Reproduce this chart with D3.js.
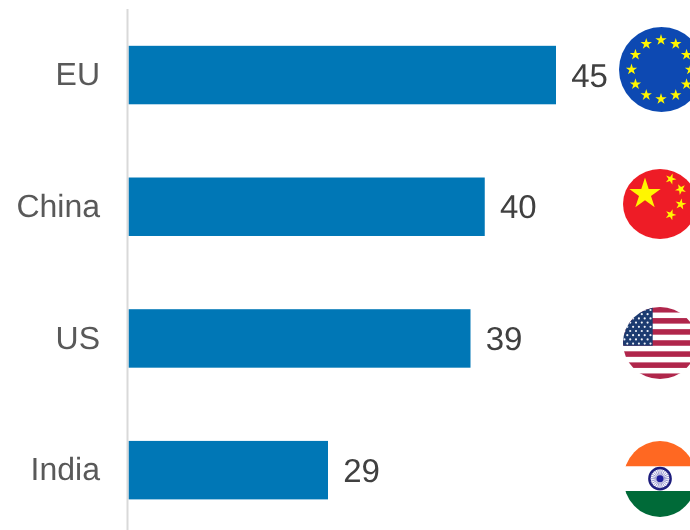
<!DOCTYPE html>
<html>
<head>
<meta charset="utf-8">
<script src="https://cdn.jsdelivr.net/npm/d3@7/dist/d3.min.js"></script>
<style>
  html, body { margin: 0; padding: 0; background: #fff; }
  svg { display: block; will-change: transform; }
  text { font-family: "Liberation Sans", Arial, sans-serif; text-rendering: geometricPrecision; }
</style>
</head>
<body>
<div id="chart"></div>
<script>
const categories = ["EU", "China", "US", "India"];
const values = [45, 40, 39, 29];
const axisStart = 15;

const width = 690, height = 530;
const svg = d3.select("#chart").append("svg").attr("width", width).attr("height", height);

const x = d3.scaleLinear().domain([axisStart, 45]).range([128.5, 556]);
const y = d3.scaleBand().domain(categories).range([9.2, 536]).paddingInner(0.556).paddingOuter(0.278);

// Bars
svg.selectAll("rect.bar").data(categories).join("rect")
  .attr("class", "bar")
  .attr("x", x(axisStart))
  .attr("y", d => y(d))
  .attr("width", (d, i) => x(values[i]) - x(axisStart))
  .attr("height", y.bandwidth())
  .attr("fill", "#0077b6");

// Vertical baseline
svg.append("line")
  .attr("x1", 127.5).attr("x2", 127.5).attr("y1", 9).attr("y2", height)
  .attr("stroke", "#d9d9d9").attr("stroke-width", 2);

// Category labels
const axis = svg.append("g")
  .attr("transform", "translate(100,0)")
  .call(d3.axisLeft(y).tickSize(0).tickPadding(0));
axis.select(".domain").remove();
axis.selectAll("text")
  .attr("font-size", 32)
  .style("font-family", '"Liberation Sans", Arial, sans-serif')
  .attr("fill", "#595959");

// Value labels
svg.selectAll("text.value").data(categories).join("text")
  .attr("class", "value")
  .attr("x", (d, i) => x(values[i]) + 15.2)
  .attr("y", d => y(d) + y.bandwidth() / 2)
  .attr("dy", "0.35em")
  .attr("font-size", 33)
  .attr("fill", "#404040")
  .text((d, i) => values[i]);

// Flags
const defs = svg.append("defs");
[["soft", 0.5], ["softer", 0.7]].forEach(([id, s]) => {
  defs.append("filter").attr("id", id)
    .append("feGaussianBlur").attr("stdDeviation", s);
});

const starPath = r => d3.symbol().type(d3.symbolStar).size(Math.PI * r * r * 0.38)();

function flag(id, cx, cy, rx, ry, blur = "soft") {
  defs.append("clipPath").attr("id", id)
    .append("ellipse").attr("cx", cx).attr("cy", cy).attr("rx", rx).attr("ry", ry);
  return svg.append("g").attr("filter", `url(#${blur})`)
    .append("g").attr("clip-path", `url(#${id})`);
}
function star(g, px, py, r, fill, rot = 0) {
  g.append("path").attr("d", starPath(r))
    .attr("transform", `translate(${px},${py}) rotate(${rot})`)
    .attr("fill", fill);
}

// EU: ring of twelve stars
{
  const cx = 661.5, cy = 69.5;
  const g = flag("clip-eu", cx, cy, 42.5, 42.5);
  g.append("rect").attr("x", 615).attr("y", 24).attr("width", 80).attr("height", 92).attr("fill", "#0a4ab2");
  d3.range(12).forEach(k => {
    const a = k * Math.PI / 6;
    star(g, 661 + 29.5 * Math.sin(a), cy - 29.5 * Math.cos(a), 5.8, "#fff600");
  });
}

// China: large star and four small stars
{
  const g = flag("clip-cn", 660, 204, 37, 35);
  g.append("rect").attr("x", 620).attr("y", 165).attr("width", 75).attr("height", 78).attr("fill", "#ee1c25");
  star(g, 645, 194, 16, "#fff600");
  star(g, 670.7, 179, 5.6, "#fff600", 20);
  star(g, 680.7, 189.3, 5.6, "#fff600", 45);
  star(g, 680.7, 204.3, 5.6, "#fff600", 10);
  star(g, 670.7, 214.7, 5.6, "#fff600", 20);
}

// US: thirteen stripes, canton with staggered rows of stars
{
  const g = flag("clip-us", 660, 343, 37, 36, "softer");
  const top = 307, band = 72 / 13;
  g.append("rect").attr("x", 620).attr("y", top).attr("width", 75).attr("height", 72).attr("fill", "#fff");
  d3.range(0, 13, 2).forEach(k => {
    g.append("rect").attr("x", 620).attr("y", top + k * band)
      .attr("width", 75).attr("height", band).attr("fill", "#b0254c");
  });
  g.append("rect").attr("x", 620).attr("y", top).attr("width", 32.7).attr("height", band * 7).attr("fill", "#1d3a70");
  d3.range(9).forEach(row => {
    const inset = row % 2 ? 2.9 : 0;
    d3.range(6).forEach(c => {
      g.append("circle")
        .attr("cx", 650.5 - inset - c * 5.8)
        .attr("cy", 310 + row * 4.2)
        .attr("r", 1.1).attr("fill", "#eef2f8");
    });
  });
}

// India: tricolour with wheel
{
  const cx = 660, cy = 478.7;
  const g = flag("clip-in", cx, 479, 36.5, 38);
  g.append("rect").attr("x", 620).attr("y", 438).attr("width", 75).attr("height", 28.5).attr("fill", "#ff6820");
  g.append("rect").attr("x", 620).attr("y", 466.5).attr("width", 75).attr("height", 24.5).attr("fill", "#fff");
  g.append("rect").attr("x", 620).attr("y", 491).attr("width", 75).attr("height", 30).attr("fill", "#046a38");
  g.append("circle").attr("cx", cx).attr("cy", cy).attr("r", 10.6)
    .attr("fill", "#fff").attr("stroke", "#1c1c7c").attr("stroke-width", 2.5);
  d3.range(24).forEach(k => {
    const a = k * Math.PI / 12;
    g.append("line")
      .attr("x1", cx).attr("y1", cy)
      .attr("x2", cx + 10 * Math.cos(a)).attr("y2", cy + 10 * Math.sin(a))
      .attr("stroke", "#6a6ab8").attr("stroke-width", 0.7);
  });
  g.append("circle").attr("cx", cx).attr("cy", cy).attr("r", 3.4).attr("fill", "#1c1c9c");
}
</script>
</body>
</html>
